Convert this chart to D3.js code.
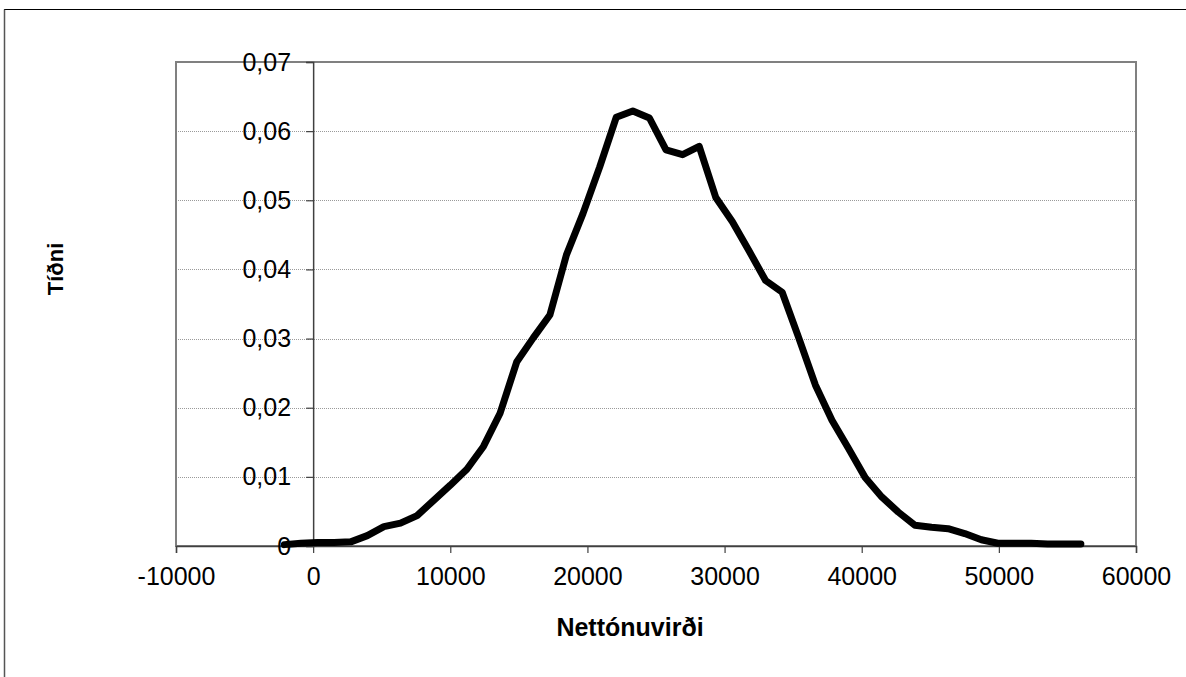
<!DOCTYPE html>
<html>
<head>
<meta charset="utf-8">
<script src="https://cdn.jsdelivr.net/npm/d3@7"></script>
<style>
  html, body { margin: 0; padding: 0; background: #fff; }
  svg { display: block; }
  text { font-family: "Liberation Sans", Arial, sans-serif; }
</style>
</head>
<body>
<svg id="chart" width="1186" height="677"></svg>
<script>
// ---- data ----
const npv = [-2100, -890, 320, 1530, 2740, 3950, 5160, 6370, 7580, 8790,
  10000, 11210, 12420, 13630, 14840, 16050, 17260, 18470, 19680, 20890,
  22100, 23310, 24520, 25730, 26940, 28150, 29360, 30570, 31780, 32990,
  34200, 35410, 36620, 37830, 39040, 40250, 41460, 42670, 43880, 45090,
  46300, 47510, 48720, 49930, 51140, 52350, 53560, 54770, 55980];
const freq = [0.0002, 0.0004, 0.0005, 0.0005, 0.0006, 0.0015, 0.0028, 0.0033, 0.0044, 0.0066,
  0.0088, 0.0111, 0.0144, 0.0192, 0.0266, 0.0301, 0.0334, 0.0421, 0.0481, 0.0548,
  0.0620, 0.0629, 0.0619, 0.0573, 0.0566, 0.0578, 0.0504, 0.0469, 0.0427, 0.0384,
  0.0367, 0.0301, 0.0233, 0.0182, 0.0141, 0.0099, 0.0071, 0.0049, 0.0030, 0.0027,
  0.0025, 0.0018, 0.0009, 0.0004, 0.0004, 0.0004, 0.0003, 0.0003, 0.0003];
const xTicks = [-10000, 0, 10000, 20000, 30000, 40000, 50000, 60000];
const yTicks = [0, 0.01, 0.02, 0.03, 0.04, 0.05, 0.06, 0.07];
const xTitle = "Nettónuvirði";
const yTitle = "Tíðni";

const svg = d3.select("#chart");
const plot = { left: 176, right: 1136, top: 62, bottom: 546 };

const x = d3.scaleLinear().domain([-10000, 60000]).range([plot.left, plot.right]);
const y = d3.scaleLinear().domain([0, 0.07]).range([plot.bottom, plot.top]);

// outer frame
svg.append("rect")
  .attr("x", 4.5).attr("y", 9.5).attr("width", 1300).attr("height", 800)
  .attr("fill", "none").attr("stroke", "#000").attr("stroke-width", 1);
svg.append("line").attr("x1", 4.5).attr("x2", 4.5).attr("y1", 9.5).attr("y2", 677)
  .attr("stroke", "#555").attr("stroke-width", 1.5);

// gridlines
svg.append("g").selectAll("line")
  .data(yTicks.filter(d => d > 0 && d < 0.07))
  .join("line")
  .attr("x1", plot.left).attr("x2", plot.right)
  .attr("y1", d => Math.round(y(d)) + 0.5).attr("y2", d => Math.round(y(d)) + 0.5)
  .attr("stroke", "#9a9a9a").attr("stroke-width", 1)
  .attr("stroke-dasharray", "1,1");

// plot area border
svg.append("rect")
  .attr("x", plot.left).attr("y", plot.top)
  .attr("width", plot.right - plot.left).attr("height", plot.bottom - plot.top)
  .attr("fill", "none").attr("stroke", "#808080").attr("stroke-width", 2);

// x axis at y=0
const xAxis = d3.axisBottom(x).tickValues(xTicks).tickSize(7).tickPadding(14)
  .tickFormat(d => String(d));
const gx = svg.append("g").attr("transform", `translate(0,${plot.bottom})`).call(xAxis);
gx.select(".domain").attr("stroke", "#404040").attr("stroke-width", 1.5);
gx.selectAll(".tick line").attr("stroke", "#404040").attr("stroke-width", 1.2);
gx.selectAll(".tick text").attr("font-size", 25).attr("fill", "#000")
  .style("font-family", "'Liberation Sans', Arial, sans-serif");

// y axis at x=0
const yAxis = d3.axisLeft(y).tickValues(yTicks).tickSize(7).tickPadding(15)
  .tickFormat(d => d === 0 ? "0" : d.toFixed(2).replace(".", ","));
const gy = svg.append("g").attr("transform", `translate(${x(0)},0)`).call(yAxis);
gy.select(".domain").attr("stroke", "#404040").attr("stroke-width", 1.5);
gy.selectAll(".tick line").attr("stroke", "#404040").attr("stroke-width", 1.2);
gy.selectAll(".tick text").attr("font-size", 25).attr("fill", "#000")
  .style("font-family", "'Liberation Sans', Arial, sans-serif");

// line
const line = d3.line().x((d, i) => x(npv[i])).y(d => y(d));
svg.append("path")
  .datum(freq)
  .attr("d", line)
  .attr("fill", "none")
  .attr("stroke", "#000")
  .attr("stroke-width", 7)
  .attr("stroke-linejoin", "round")
  .attr("stroke-linecap", "round");

// titles
svg.append("text")
  .attr("x", 630).attr("y", 636)
  .attr("text-anchor", "middle")
  .attr("font-size", 25).attr("font-weight", "bold")
  .text(xTitle);

svg.append("text")
  .attr("transform", "translate(63,269) rotate(-90)")
  .attr("text-anchor", "middle")
  .attr("font-size", 22).attr("font-weight", "bold")
  .text(yTitle);
</script>
</body>
</html>
